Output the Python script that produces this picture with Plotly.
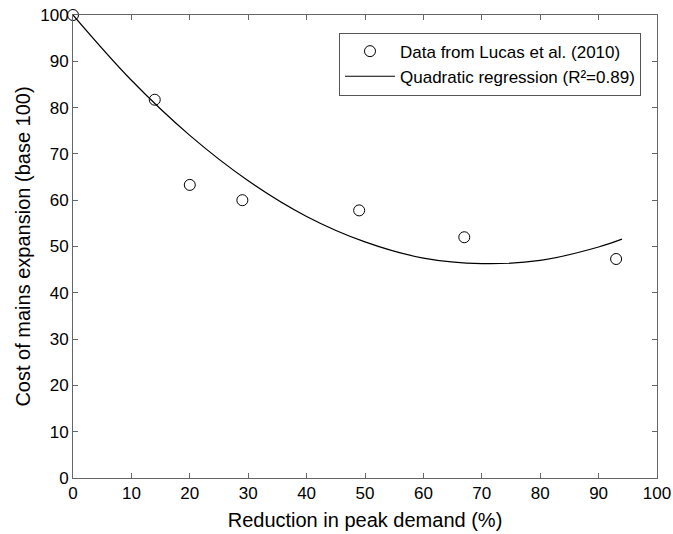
import plotly.graph_objects as go

# observed data points
reduction = [0, 14, 20, 29, 49, 67, 93]
cost = [100, 81.7, 63.3, 60.0, 57.8, 52.0, 47.3]

# quadratic regression curve
fit_x = [0, 10, 20, 30, 40, 50, 60, 70, 80, 90, 94]
fit_y = [100, 85.9, 74.0, 64.2, 56.5, 51.0, 47.5, 46.3, 47.0, 49.9, 51.6]

x_ticks = [0, 10, 20, 30, 40, 50, 60, 70, 80, 90, 100]
y_ticks = [0, 10, 20, 30, 40, 50, 60, 70, 80, 90, 100]

FONT = "Liberation Sans, Arial, Helvetica"

fig = go.Figure()
fig.add_trace(go.Scatter(
    x=reduction, y=cost, mode="markers",
    name="Data from Lucas et al. (2010)",
    marker=dict(symbol="circle-open", size=11, color="black", line=dict(width=1, color="black")),
    cliponaxis=False,
))
fig.add_trace(go.Scatter(
    x=fit_x, y=fit_y, mode="lines", line_shape="spline",
    name="Quadratic regression (R²=0.89)",
    line=dict(color="black", width=1.2),
))

axis_common = dict(
    showgrid=False, zeroline=False, showline=True, linecolor="#666", linewidth=1,
    mirror="ticks", ticks="inside", ticklen=5, tickcolor="#666",
    tickfont=dict(family=FONT, size=17, color="black"),
    automargin=False, ticklabeloverflow="allow",
)
fig.update_xaxes(range=[0, 100], tickvals=x_ticks,
                 title=dict(text="Reduction in peak demand (%)", font=dict(family=FONT, size=20, color="black"), standoff=10),
                 **axis_common)
fig.update_yaxes(range=[0, 100], tickvals=y_ticks,
                 title=dict(text="Cost of mains expansion (base 100)", font=dict(family=FONT, size=20, color="black"), standoff=4),
                 **axis_common)

fig.update_layout(
    width=673, height=534,
    margin=dict(l=73, r=16, t=15, b=56),
    plot_bgcolor="white", paper_bgcolor="white",
    font=dict(family=FONT, size=17, color="black"),
    legend=dict(x=0.9726, y=0.962, xanchor="right", yanchor="top",
                bgcolor="white", bordercolor="#555", borderwidth=1,
                font=dict(family=FONT, size=17), tracegroupgap=0, itemwidth=50),
    showlegend=True,
)
# remove the default page margin so the figure fills the window exactly
fig.write_html("out.html", config={"displayModeBar": False},
               post_script="document.body.style.margin='0';")
